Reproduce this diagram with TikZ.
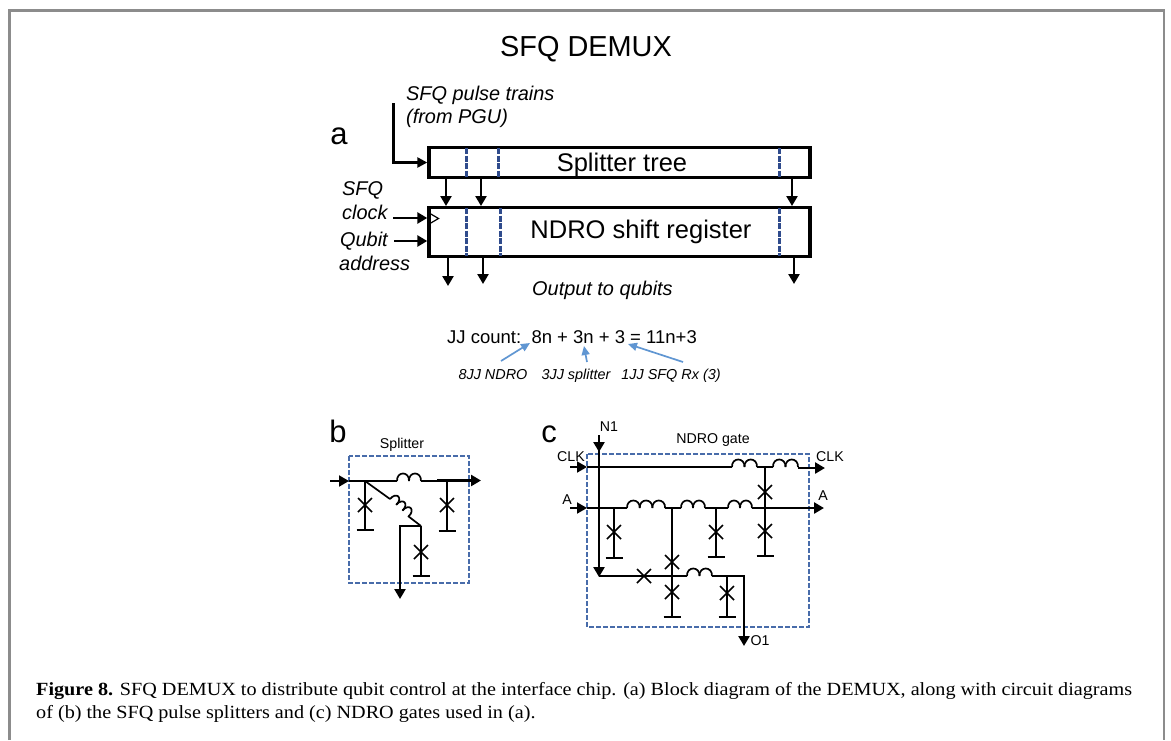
\documentclass[tikz,border=0pt]{standalone}
\usepackage{fontspec}
\setmainfont{Liberation Sans}
\newfontfamily\capfont[FakeStretch=1.085]{Liberation Serif}
\usetikzlibrary{arrows.meta}
\definecolor{dashblue}{RGB}{47,75,140}
\definecolor{gatebox}{RGB}{72,108,170}
\definecolor{noteblue}{RGB}{96,150,210}
\definecolor{framegray}{RGB}{140,140,140}
\newcommand{\coilat}[5]{% x y hump-width count rotation
  \begin{scope}[shift={(#1,#2)},rotate=#5]
    \foreach \i in {1,...,#4}{
      \draw[wire] ({(\i-1)*#3},0) .. controls ({(\i-1)*#3-0.5},-10) and ({\i*#3+0.5},-10) .. ({\i*#3},0);
    }
  \end{scope}}
\newcommand{\jjv}[2]{% cross centred on x y
  \draw[wire] (#1-7,#2-7) -- (#1+7,#2+7) (#1-7,#2+7) -- (#1+7,#2-7);}
\newcommand{\gnd}[2]{\draw[wire] (#1-8.5,#2) -- (#1+8.5,#2);}
\tikzset{
  x=1pt,y=-1pt,
  wire/.style={line width=1.7pt,black},
  heavy/.style={line width=2.7pt,black},
  arr/.style={line width=2.9pt,black,-{Triangle[length=10pt,width=11pt]}},
  thinarr/.style={line width=2.4pt,black,-{Triangle[length=10pt,width=10pt]}},
  blockbox/.style={draw=black,line width=3.4pt,fill=white,minimum width=381pt,inner sep=0pt},
  blockdash/.style={line width=3pt,dashblue,dash pattern=on 6pt off 1.5pt},
  gatedash/.style={draw=gatebox,line width=2pt,dash pattern=on 5pt off 2pt},
  note/.style={noteblue,line width=1.7pt,-{Triangle[length=9pt,width=8pt]}},
  lab/.style={inner sep=0pt},
  panel/.style={inner sep=0pt,font=\fontsize{31}{34}\selectfont},
  itlab/.style={inner sep=0pt,anchor=base west,font=\fontsize{19.9}{22}\itshape\selectfont},
  smlab/.style={inner sep=0pt,font=\fontsize{14.2}{16}\selectfont},
  notetxt/.style={inner sep=0pt,anchor=base,font=\fontsize{14.4}{16}\itshape\selectfont},
  captxt/.style={inner sep=0pt,anchor=base west,font=\capfont\fontsize{18.6}{20}\selectfont},
}
\begin{document}
\begin{tikzpicture}
\useasboundingbox (0,0) rectangle (1171,740);
\draw[framegray,line width=2.4pt] (9.5,740) -- (9.5,10.5) -- (1164,10.5) -- (1164,740);

\node[lab,font=\fontsize{28.9}{32}\selectfont] (title) at (586,49) {SFQ DEMUX};
\node[panel] (pa) at (339,136) {a};
\node[panel] (pb) at (338,431) {b};
\node[panel] (pc) at (549,434) {c};

% ---- panel a
\node[blockbox,minimum height=30pt] (split) at (619.5,162.5) {};
\node[blockbox,minimum height=49pt] (ndro) at (619.5,232) {};
\node[lab,font=\fontsize{25.5}{28}\selectfont] (splittxt) at (622,165) {Splitter tree};
\node[lab,font=\fontsize{25.5}{28}\selectfont] (ndrotxt) at (641,232) {NDRO shift register};
\foreach \x in {466,498,779}{\draw[blockdash] (\x,148) -- (\x,177);}
\foreach \x in {466,500,779}{\draw[blockdash] (\x,208) -- (\x,256);}

\node[itlab] (pulse1) at (406,100) {SFQ pulse trains};
\node[itlab] (pulse2) at (406,123) {(from PGU)};
\node[itlab] (clk1) at (342,195) {SFQ};
\node[itlab] (clk2) at (342,219) {clock};
\node[itlab] (addr1) at (340,246) {Qubit};
\node[itlab] (addr2) at (339,270) {address};
\node[itlab] (out) at (532,295) {Output to qubits};

\coordinate (pulsestart) at (393.5,103);
\coordinate (clkstart) at (393,218);
\coordinate (addrstart) at (394,241);
\draw[thinarr] (pulsestart) |- (split.west);
\draw[arr] (clkstart) -- (clkstart -| ndro.west);
\draw[arr] (addrstart) -- (addrstart -| ndro.west);
\draw[line width=1.2pt,black] (430,213.5) -- (438.5,218.5) -- (430,223.5);
\foreach \x in {446,481,792}{
  \draw[arr] (\x,179) -- (\x,206);}
\draw[arr] (448,258) -- (448,286);
\draw[arr] (483,258) -- (483,284);
\draw[arr] (794,258) -- (794,284);

% ---- JJ count
\node[lab,anchor=base west,font=\fontsize{18.5}{20}\selectfont] (jj) at (447,343) {JJ count:\ \ 8n + 3n + 3 = 11n+3};
\node[notetxt] (n1) at (493,379) {8JJ NDRO};
\node[notetxt] (n2) at (576,379) {3JJ splitter};
\node[notetxt] (n3) at (671,379) {1JJ SFQ Rx (3)};
\coordinate (t1) at (530,343);
\coordinate (t2) at (584,346);
\coordinate (t3) at (628,344);
\draw[note] (501,361) -- (t1);
\draw[note] (587,362) -- (t2);
\draw[note] (683,362) -- (t3);

% ---- panel b
\node[smlab] (splitlab) at (402,445) {Splitter};
\draw[gatedash] (349,456) rectangle (469,583);
\draw[arr,line width=1.9pt] (330,481) -- (349,481);
\draw[wire] (349,481) -- (397,481);
\coilat{397}{481}{12}{2}{0}
\draw[wire] (421,481) -- (437,481);
\draw[arr] (437,480.5) -- (481,480.5);
\draw[wire] (365,481) -- (365,530);
\jjv{365}{505} \gnd{365}{530}
\draw[wire] (447,481) -- (447,531);
\jjv{447}{505} \gnd{447}{531}
\draw[wire] (365,481) -- (390,499);
\coilat{390}{499}{8.5}{3}{-43}
\draw[wire] (408,516) -- (421,526);
\draw[wire] (421,526) -- (421,576);
\jjv{421}{552} \gnd{421}{576}
\draw[heavy] (421,526) -- (400,526) -- (400,588);
\draw[arr] (400,580) -- (400,599);

% ---- panel c
\node[smlab] (ngate) at (713,440) {NDRO gate};
\node[smlab] (n1lab) at (609,427) {N1};
\node[smlab] (clkl) at (571,457) {CLK};
\node[smlab] (clkr) at (830,457) {CLK};
\node[smlab] (al) at (567,500) {A};
\node[smlab] (ar) at (823,496) {A};
\node[smlab] (o1) at (760,641) {O1};
\draw[gatedash] (587,454) rectangle (809,627);

\draw[wire] (587,467) -- (732,467);
\draw[arr,line width=1.9pt] (570,467) -- (587,467);
\coilat{732}{467}{12.5}{2}{0}
\draw[wire] (757,467) -- (773,467);
\coilat{773}{467}{12.5}{2}{0}
\draw[arr] (798,468) -- (825,468);
\draw[wire] (765,467) -- (765,556);
\jjv{765}{492} \jjv{765}{531} \gnd{765}{556}

\draw[wire] (587,508) -- (627,508);
\draw[arr,line width=1.9pt] (570,508) -- (587,508);
\coilat{627}{508}{12.7}{3}{0}
\draw[wire] (665,508) -- (681,508);
\coilat{681}{508}{12}{2}{0}
\draw[wire] (705,508) -- (728,508);
\coilat{728}{508}{12}{2}{0}
\draw[wire] (752,508) -- (775,508);
\draw[arr] (775,508) -- (824,508);

\draw[wire] (614,508) -- (614,558);
\jjv{614}{532} \gnd{614}{558}
\draw[wire] (672,508) -- (672,617);
\jjv{672}{562} \jjv{672}{592} \gnd{672}{617}
\draw[wire] (716,508) -- (716,557);
\jjv{716}{532} \gnd{716}{557}

\draw[heavy] (599,435) -- (599,570);
\draw[arr,line width=2.7pt] (599,435) -- (599,452);
\draw[arr,line width=2.7pt] (599,560) -- (599,577);
\draw[wire] (599,576) -- (687,576);
\jjv{644}{576}
\coilat{687}{576}{12.5}{2}{0}
\draw[wire] (712,576) -- (727,576);
\draw[wire] (727,576) -- (727,617);
\jjv{727}{593} \gnd{727}{617}
\draw[heavy] (727,576) -- (744,576) -- (744,635);
\draw[arr,line width=2.7pt] (744,625) -- (744,646);

% ---- caption
\node[captxt] (cap1) at (36,695) {\textbf{Figure 8.} SFQ DEMUX to distribute qubit control at the interface chip. (a) Block diagram of the DEMUX, along with circuit diagrams};
\node[captxt] (cap2) at (36,718) {of (b) the SFQ pulse splitters and (c) NDRO gates used in (a).};
\end{tikzpicture}
\end{document}
